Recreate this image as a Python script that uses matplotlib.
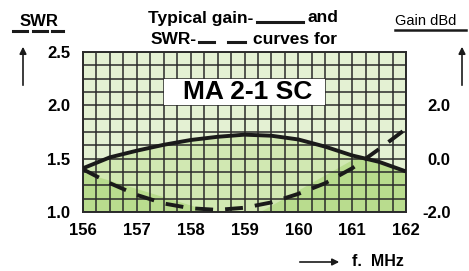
import numpy as np
import matplotlib.pyplot as plt
from matplotlib.ticker import MultipleLocator, FixedLocator
from matplotlib.lines import Line2D
from matplotlib.patches import Rectangle

plt.rcParams['font.family'] = ['Liberation Sans', 'DejaVu Sans']
plt.rcParams['font.weight'] = 'bold'

# data
freq = [156, 156.5, 157, 157.5, 158, 158.5, 159, 159.5, 160, 160.5, 161, 161.5, 162]
swr = [1.40, 1.27, 1.16, 1.08, 1.035, 1.02, 1.04, 1.09, 1.17, 1.27, 1.41, 1.59, 1.78]
gain_dbd = [-0.36, 0.05, 0.30, 0.52, 0.70, 0.82, 0.90, 0.86, 0.72, 0.45, 0.12, -0.12, -0.48]

# darker green band in the background
shade_x = [156, 156, 158.4, 159.3, 162, 162]
shade_y = [1.0, 1.37, 1.0, 1.0, 1.77, 1.0]

x_ticks = [156, 157, 158, 159, 160, 161, 162]
swr_ticks = [1.0, 1.5, 2.0, 2.5]
gain_ticks = [-2.0, 0.0, 2.0]
model = "MA 2-1 SC"


def gain_to_swr(g):
    return np.asarray(g) / 4.0 + 1.5


def swr_to_gain(s):
    return (np.asarray(s) - 1.5) * 4.0


W, H = 469, 271
fig = plt.figure(figsize=(W / 100, H / 100), dpi=100)
ax = fig.add_axes([83 / W, 1 - 212 / H, 323 / W, 160 / H])

ax.set_xlim(156, 162)
ax.set_ylim(1.0, 2.5)
ax.set_facecolor('#d1e8b2')

ax.fill(shade_x, shade_y, color='#b9dc8e', lw=0, zorder=0.1)
ax.fill_between(freq, gain_to_swr(gain_dbd), 2.5, color='#e4f1d3', lw=0, zorder=0.2)

ax.xaxis.set_major_locator(FixedLocator(x_ticks))
ax.xaxis.set_minor_locator(MultipleLocator(0.25))
ax.yaxis.set_major_locator(FixedLocator(swr_ticks))
ax.yaxis.set_minor_locator(MultipleLocator(0.125))
ax.set_axisbelow(True)
ax.grid(which='both', color='#2a2a2a', lw=1.1)

ax.add_patch(Rectangle((157.5, 2.0), 3.0, 0.25, facecolor='white', edgecolor='none', zorder=2))
ax.text(159.05, 2.125, model, ha='center', va='center', fontsize=19, zorder=3)

ax.plot(freq, gain_to_swr(gain_dbd), color='#1a1a1a', lw=2.8, zorder=4, solid_capstyle='butt')
ax.plot(freq, swr, color='#1a1a1a', lw=2.8, zorder=4, dashes=(4.6, 3.1), dash_capstyle='butt')

for s in ax.spines.values():
    s.set_linewidth(1.4)
    s.set_color('#2a2a2a')

ax.tick_params(which='both', length=0)
ax.tick_params(axis='x', pad=8, labelsize=12)
ax.tick_params(axis='y', pad=9, labelsize=12)
ax.set_yticklabels(['%.1f' % v for v in swr_ticks])

sec = ax.secondary_yaxis('right', functions=(swr_to_gain, gain_to_swr))
sec.yaxis.set_major_locator(FixedLocator(gain_ticks))
sec.set_yticklabels(['%.1f' % v for v in gain_ticks], ha='right')
sec.tick_params(length=0, pad=32, labelsize=12)
sec.spines['right'].set_visible(False)


def px(x, y):
    return x / W, 1 - y / H


def seg(x0, x1, y, lw=2.2):
    fig.add_artist(Line2D([x0 / W, x1 / W], [1 - y / H, 1 - y / H], color='#1a1a1a', lw=lw))


def up_arrow(x, y0, y1):
    fig.add_artist(plt.Annotation('', xy=px(x, y1), xytext=px(x, y0), xycoords='figure fraction',
                                  arrowprops=dict(arrowstyle='-|>', color='#1a1a1a', lw=1.2,
                                                  mutation_scale=10)))


# header text with line samples
fig.text(*px(148, 18), "Typical gain-", ha='left', va='center', fontsize=12.5)
seg(257, 303, 22)
fig.text(*px(307, 18), "and", ha='left', va='center', fontsize=12.5)
fig.text(*px(151, 39), "SWR-", ha='left', va='center', fontsize=12.5)
seg(199, 214, 42)
seg(228, 245, 42)
fig.text(*px(253, 39), "curves for", ha='left', va='center', fontsize=12.5)

# left axis title
fig.text(*px(20, 21), "SWR", ha='left', va='center', fontsize=12)
seg(13, 27, 31)
seg(33, 47, 31)
seg(52, 63, 31)
up_arrow(23, 88, 44)

# right axis title
fig.text(*px(395, 21), "Gain dBd", ha='left', va='center', fontsize=10.5, fontweight='normal')
seg(395, 466, 30, lw=1.8)
up_arrow(462, 88, 44)

# frequency label
fig.add_artist(plt.Annotation('', xy=px(342, 262), xytext=px(297, 262), xycoords='figure fraction',
                              arrowprops=dict(arrowstyle='-|>', color='#1a1a1a', lw=1.2, mutation_scale=10)))
fig.text(*px(352, 262), "f.  MHz", ha='left', va='center', fontsize=11.5)

fig.savefig('out.png', dpi=100)
